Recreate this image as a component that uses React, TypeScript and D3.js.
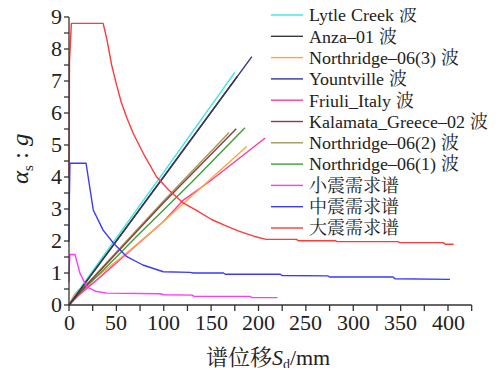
import React from 'react';
import * as d3 from 'd3';

// capacity curves [Sd (mm), Sa (g)]
const lytleCreek = [[0, 0], [10, 0.45], [50, 2.1], [100, 4.15], [175, 7.27]];
const anza01 = [[0, 0], [10, 0.4], [50, 2.0], [100, 4.02], [177.6, 7.14]];
const northridge3 = [[0, 0], [5, 0.3], [11, 0.5], [30, 0.9], [60, 1.6], [100, 2.62], [150, 3.95], [187.5, 4.95]];
const yountville = [[0, 0], [10, 0.4], [50, 2.0], [100, 4.0], [193, 7.76]];
const friuliItaly = [[0, 0], [10, 0.3], [30, 0.8], [60, 1.58], [100, 2.62], [120, 3.26], [150, 3.9], [207, 5.22]];
const kalamata = [[0, 0], [10, 0.35], [50, 1.62], [100, 3.2], [176.5, 5.51]];
const northridge2 = [[0, 0], [10, 0.36], [50, 1.66], [100, 3.26], [169, 5.39]];
const northridge1 = [[0, 0], [10, 0.33], [50, 1.5], [71, 2.13], [100, 2.98], [130, 3.85], [185.7, 5.54]];

// demand spectra
const smallQuake = [[0, 0.71], [0.3, 1.2], [1, 1.58], [6.3, 1.58], [11.6, 0.99], [18.7, 0.57], [29, 0.42], [40, 0.37], [96, 0.35], [100, 0.32], [130, 0.31], [132, 0.27], [191, 0.27], [193, 0.23], [220, 0.23]];
const moderateQuake = [[0, 1.98], [0.3, 3.2], [1, 4.43], [18, 4.43], [25.6, 2.97], [36, 2.34], [47, 1.93], [61, 1.51], [78, 1.25], [99.5, 1.04], [128, 1.02], [131, 1.0], [163, 1.0], [165, 0.96], [223, 0.96], [225, 0.92], [273, 0.91], [275, 0.875], [342, 0.875], [344, 0.82], [402, 0.8]];
const largeQuake = [[0, 3.96], [0.5, 7.6], [2.5, 8.8], [36, 8.8], [40, 8.3], [45, 7.5], [50, 6.9], [55, 6.35], [61, 5.85], [68, 5.35], [80, 4.65], [92.5, 4.0], [105, 3.6], [120, 3.2], [135, 2.95], [150, 2.68], [165, 2.48], [180, 2.3], [195, 2.15], [208, 2.05], [240, 2.05], [242, 2.01], [281, 2.01], [283, 1.98], [347, 1.98], [349, 1.95], [395, 1.95], [397, 1.9], [406, 1.9]];

// legend label = latin part + chinese part
const seriesLatin = ['Lytle Creek ', 'Anza–01 ', 'Northridge–06(3) ', 'Yountville ', 'Friuli_Italy ', 'Kalamata_Greece–02 ', 'Northridge–06(2) ', 'Northridge–06(1) ', '', '', ''];
const seriesCjk = ['波', '波', '波', '波', '波', '波', '波', '波', '小震需求谱', '中震需求谱', '大震需求谱'];
const seriesData = [lytleCreek, anza01, northridge3, yountville, friuliItaly, kalamata, northridge2, northridge1, smallQuake, moderateQuake, largeQuake];
const seriesColors = ['#3ae6e6', '#3a3a3a', '#ffa640', '#3333a0', '#ff3a9a', '#8e3b3b', '#a09a5a', '#3aa03a', '#ff3aff', '#3a3aff', '#ff3a3a'];
// draw order (back to front)
const drawOrder = [4, 2, 7, 6, 5, 0, 3, 1, 8, 9, 10];

const xTicks = d3.range(0, 426, 25);
const yTicks = d3.range(0, 9.01, 0.5);

// local() font faces, in case the plain family names are not matched
const fontCss = `
@font-face { font-family: 'ChartSerif'; font-style: normal; src: local('Liberation Serif'), local('LiberationSerif'), local('LiberationSerif-Regular'); }
@font-face { font-family: 'ChartSerif'; font-style: italic; src: local('Liberation Serif Italic'), local('LiberationSerif-Italic'); }
@font-face { font-family: 'ChartSong'; src: local('Noto Serif CJK SC'), local('NotoSerifCJKsc-Regular'), local('Noto Serif CJK SC Regular'); }
`;

const SERIF = "ChartSerif, 'Liberation Serif', 'Times New Roman', serif";
const CJK = "ChartSong, 'Noto Serif CJK SC', 'Noto Sans CJK SC', serif";

const width = 503;
const height = 376;
const marginLeft = 69;
const marginTop = 17;
const marginBottom = 71;

const x = d3.scaleLinear().domain([0, 425]).range([marginLeft, marginLeft + 425 * 0.9475]);
const y = d3.scaleLinear().domain([0, 9]).range([height - marginBottom, marginTop]);
const line = d3.line<number[]>().x(d => x(d[0])).y(d => y(d[1]));

const axisColor = '#333';
const textColor = '#222';

const App = () => (
  <div style={{ width, height, margin: -8 }}>
    <style>{fontCss}</style>
    <svg width={width} height={height} viewBox={`0 0 ${width} ${height}`} style={{ display: 'block', background: '#fff' }}>
      {drawOrder.map(i => (
        <path key={i} d={line(seriesData[i]) || ''} fill="none" stroke={seriesColors[i]} strokeWidth={1.4} strokeLinejoin="round" />
      ))}

      {/* x axis */}
      <line x1={x(0)} x2={x(425)} y1={y(0)} y2={y(0)} stroke={axisColor} strokeWidth={1.3} />
      {xTicks.map(t => (
        <g key={t} transform={`translate(${x(t)},${y(0)})`}>
          <line y2={6} stroke={axisColor} strokeWidth={1.3} />
          {t % 50 === 0 && (
            <text y={25} textAnchor="middle" fill={textColor} style={{ fontFamily: SERIF, fontSize: 22 }}>{t}</text>
          )}
        </g>
      ))}

      {/* y axis */}
      <line x1={x(0)} x2={x(0)} y1={y(0)} y2={y(9)} stroke={axisColor} strokeWidth={1.3} />
      {yTicks.map(t => (
        <g key={t} transform={`translate(${x(0)},${y(t)})`}>
          <line x2={-5} stroke={axisColor} strokeWidth={1.3} />
          {Number.isInteger(t) && (
            <text x={-7} dy="0.34em" textAnchor="end" fill={textColor} style={{ fontFamily: SERIF, fontSize: 22 }}>{t}</text>
          )}
        </g>
      ))}

      {/* legend */}
      {seriesCjk.map((c, i) => {
        const ly = 15 + i * 21.3;
        return (
          <g key={i}>
            <line x1={271} x2={303} y1={ly} y2={ly} stroke={seriesColors[i]} strokeWidth={1.4} />
            <text x={309} y={ly} dy="0.35em" fill={textColor} style={{ fontFamily: SERIF, fontSize: 18 }}>
              {seriesLatin[i] && <tspan>{seriesLatin[i]}</tspan>}
              <tspan style={{ fontFamily: CJK }}>{c}</tspan>
            </text>
          </g>
        );
      })}

      {/* y label */}
      <text transform="translate(28,158) rotate(-90)" textAnchor="middle" fill={textColor} style={{ fontFamily: SERIF, fontSize: 25 }}>
        <tspan fontStyle="italic">α</tspan>
        <tspan dy={5} style={{ fontSize: 15 }}>s</tspan>
        <tspan dy={-5}> : </tspan>
        <tspan fontStyle="italic">g</tspan>
      </text>

      {/* x label */}
      <text x={268} y={365} textAnchor="middle" fill={textColor} style={{ fontFamily: SERIF, fontSize: 22 }}>
        <tspan style={{ fontFamily: CJK }}>谱位移</tspan>
        <tspan fontStyle="italic">S</tspan>
        <tspan dy={4} style={{ fontSize: 14 }}>d</tspan>
        <tspan dy={-4}>/mm</tspan>
      </text>
    </svg>
  </div>
);

export default App;
